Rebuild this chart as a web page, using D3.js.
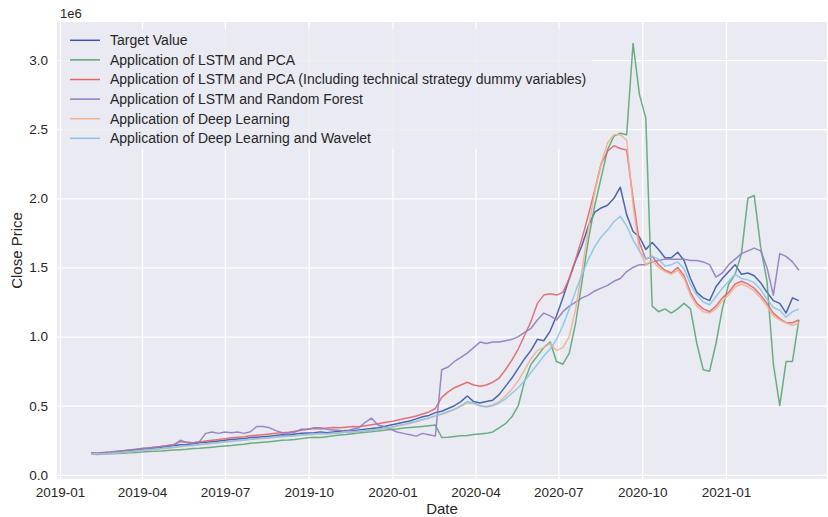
<!DOCTYPE html>
<html>
<head>
<meta charset="utf-8">
<script src="https://cdn.jsdelivr.net/npm/d3@7"></script>
<style>
  body { margin: 0; background: #ffffff; }
  text { font-family: "Liberation Sans", Arial, sans-serif; fill: #262626; }
</style>
</head>
<body>
<svg id="chart" width="828" height="517"></svg>
<script>
// Weekly closes (in millions) for the target and each model's prediction.
const firstWeek = "2019-02-04";
const weekCount = 112;

const seriesNames = [
  "Target Value",
  "Application of LSTM and PCA",
  "Application of LSTM and PCA (Including technical strategy dummy variables)",
  "Application of LSTM and Random Forest",
  "Application of Deep Learning",
  "Application of Deep Learning and Wavelet"
];
const seriesColors = ["#3a56a6", "#5aa777", "#e0666a", "#8f7cc0", "#f2b08f", "#86c5e8"];

const targetValue = [
  0.155, 0.152, 0.158, 0.160, 0.165, 0.170, 0.175, 0.180, 0.185, 0.190,
  0.195, 0.200, 0.205, 0.212, 0.218, 0.220, 0.225, 0.232, 0.236, 0.240,
  0.245, 0.250, 0.256, 0.260, 0.262, 0.270, 0.272, 0.276, 0.280, 0.285,
  0.290, 0.288, 0.295, 0.300, 0.302, 0.305, 0.310, 0.305, 0.310, 0.315,
  0.320, 0.318, 0.325, 0.330, 0.335, 0.340, 0.350, 0.360, 0.370, 0.380,
  0.390, 0.405, 0.420, 0.430, 0.450, 0.460, 0.480, 0.500, 0.530, 0.570,
  0.530, 0.520, 0.530, 0.540, 0.580, 0.640, 0.700, 0.770, 0.840, 0.900,
  0.980, 0.970, 1.040, 1.150, 1.280, 1.420, 1.550, 1.660, 1.800, 1.900,
  1.930, 1.950, 2.000, 2.080, 1.880, 1.760, 1.720, 1.630, 1.680, 1.630,
  1.570, 1.570, 1.610, 1.550, 1.420, 1.320, 1.280, 1.260, 1.360, 1.420,
  1.470, 1.520, 1.450, 1.460, 1.440, 1.390, 1.320, 1.260, 1.240, 1.170, 1.280, 1.260
];
const lstmPca = [
  0.150, 0.148, 0.150, 0.152, 0.155, 0.156, 0.160, 0.162, 0.165, 0.168,
  0.170, 0.172, 0.176, 0.180, 0.182, 0.185, 0.190, 0.192, 0.196, 0.200,
  0.205, 0.208, 0.212, 0.218, 0.222, 0.228, 0.232, 0.236, 0.240, 0.245,
  0.250, 0.252, 0.256, 0.262, 0.268, 0.272, 0.270, 0.276, 0.282, 0.288,
  0.292, 0.298, 0.302, 0.308, 0.312, 0.318, 0.322, 0.328, 0.332, 0.338,
  0.342, 0.346, 0.350, 0.355, 0.360, 0.270, 0.272, 0.278, 0.282, 0.285,
  0.292, 0.296, 0.300, 0.310, 0.340, 0.370, 0.420, 0.500, 0.680, 0.800,
  0.860, 0.920, 0.960, 0.820, 0.800, 0.880, 1.100, 1.400, 1.700, 1.950,
  2.150, 2.350, 2.450, 2.470, 2.460, 3.120, 2.750, 2.580, 1.220, 1.180,
  1.200, 1.170, 1.200, 1.240, 1.200, 0.950, 0.760, 0.750, 0.950, 1.200,
  1.380, 1.450, 1.600, 2.000, 2.020, 1.650, 1.400, 0.800, 0.500, 0.820, 0.820, 1.120
];
const lstmPcaTechnical = [
  0.155, 0.155, 0.160, 0.163, 0.168, 0.172, 0.178, 0.183, 0.190, 0.195,
  0.200, 0.205, 0.212, 0.220, 0.240, 0.235, 0.232, 0.238, 0.245, 0.250,
  0.255, 0.262, 0.268, 0.272, 0.275, 0.282, 0.286, 0.290, 0.295, 0.300,
  0.305, 0.308, 0.315, 0.322, 0.330, 0.335, 0.332, 0.338, 0.342, 0.340,
  0.345, 0.350, 0.348, 0.355, 0.362, 0.370, 0.378, 0.385, 0.395, 0.405,
  0.415, 0.425, 0.440, 0.455, 0.480, 0.560, 0.600, 0.630, 0.650, 0.670,
  0.650, 0.640, 0.650, 0.670, 0.700, 0.760, 0.830, 0.910, 1.010, 1.110,
  1.240, 1.300, 1.310, 1.300, 1.320, 1.420, 1.560, 1.710, 1.880, 2.060,
  2.250, 2.340, 2.380, 2.360, 2.350, 2.000, 1.680, 1.560, 1.580, 1.520,
  1.480, 1.460, 1.500, 1.440, 1.320, 1.240, 1.200, 1.180, 1.220, 1.280,
  1.320, 1.380, 1.400, 1.380, 1.350, 1.300, 1.240, 1.170, 1.130, 1.100, 1.100, 1.120
];
const lstmRandomForest = [
  0.160, 0.158, 0.162, 0.165, 0.170, 0.175, 0.180, 0.185, 0.190, 0.195,
  0.200, 0.205, 0.210, 0.215, 0.250, 0.235, 0.230, 0.240, 0.300, 0.310,
  0.300, 0.310, 0.305, 0.310, 0.300, 0.312, 0.350, 0.350, 0.340, 0.320,
  0.305, 0.300, 0.310, 0.330, 0.330, 0.340, 0.340, 0.330, 0.325, 0.320,
  0.315, 0.330, 0.340, 0.380, 0.410, 0.360, 0.350, 0.330, 0.310, 0.300,
  0.290, 0.280, 0.300, 0.290, 0.280, 0.760, 0.780, 0.820, 0.850, 0.880,
  0.920, 0.960, 0.950, 0.960, 0.960, 0.970, 0.980, 1.000, 1.030, 1.060,
  1.120, 1.170, 1.150, 1.120, 1.180, 1.220, 1.250, 1.280, 1.300, 1.330,
  1.350, 1.370, 1.400, 1.420, 1.470, 1.500, 1.520, 1.520, 1.540, 1.550,
  1.560, 1.560, 1.560, 1.560, 1.550, 1.550, 1.540, 1.520, 1.430, 1.460,
  1.520, 1.560, 1.600, 1.620, 1.640, 1.620, 1.500, 1.300, 1.600, 1.580, 1.540, 1.480
];
const deepLearning = [
  0.150, 0.150, 0.152, 0.155, 0.158, 0.162, 0.166, 0.170, 0.175, 0.180,
  0.184, 0.188, 0.193, 0.198, 0.203, 0.208, 0.212, 0.217, 0.222, 0.227,
  0.232, 0.237, 0.242, 0.246, 0.250, 0.255, 0.259, 0.263, 0.267, 0.272,
  0.276, 0.279, 0.282, 0.286, 0.290, 0.293, 0.296, 0.298, 0.301, 0.305,
  0.308, 0.311, 0.315, 0.319, 0.323, 0.328, 0.334, 0.342, 0.352, 0.362,
  0.372, 0.384, 0.398, 0.410, 0.425, 0.438, 0.455, 0.472, 0.495, 0.520,
  0.515, 0.500, 0.495, 0.505, 0.530, 0.570, 0.620, 0.680, 0.760, 0.840,
  0.900, 0.920, 0.950, 0.900, 0.920, 1.000, 1.200, 1.480, 1.780, 2.050,
  2.250, 2.400, 2.460, 2.460, 2.420, 1.950, 1.620, 1.520, 1.550, 1.500,
  1.470, 1.450, 1.480, 1.420, 1.300, 1.220, 1.180, 1.170, 1.200, 1.260,
  1.300, 1.360, 1.380, 1.360, 1.330, 1.280, 1.220, 1.150, 1.120, 1.100, 1.080, 1.100
];
const deepLearningWavelet = [
  0.150, 0.150, 0.153, 0.155, 0.160, 0.163, 0.168, 0.172, 0.178, 0.182,
  0.186, 0.190, 0.196, 0.200, 0.206, 0.210, 0.214, 0.220, 0.225, 0.230,
  0.234, 0.240, 0.244, 0.248, 0.252, 0.258, 0.262, 0.266, 0.270, 0.275,
  0.280, 0.280, 0.284, 0.290, 0.292, 0.295, 0.300, 0.298, 0.300, 0.305,
  0.310, 0.310, 0.315, 0.320, 0.325, 0.330, 0.338, 0.345, 0.355, 0.365,
  0.375, 0.388, 0.400, 0.412, 0.428, 0.440, 0.458, 0.475, 0.500, 0.530,
  0.520, 0.500, 0.490, 0.500, 0.520, 0.550, 0.590, 0.630, 0.680, 0.740,
  0.800, 0.860, 0.910, 0.980, 1.080, 1.200, 1.330, 1.450, 1.560, 1.650,
  1.720, 1.770, 1.830, 1.870, 1.800, 1.700, 1.620, 1.560, 1.580, 1.560,
  1.510, 1.520, 1.540, 1.490, 1.380, 1.300, 1.250, 1.230, 1.290, 1.350,
  1.400, 1.450, 1.420, 1.410, 1.390, 1.340, 1.270, 1.210, 1.190, 1.140, 1.180, 1.200
];

const yTicks = [0.0, 0.5, 1.0, 1.5, 2.0, 2.5, 3.0];
const xTickLabels = ["2019-01", "2019-04", "2019-07", "2019-10", "2020-01", "2020-04", "2020-07", "2020-10", "2021-01"];

const seriesValues = [targetValue, lstmPca, lstmPcaTechnical, lstmRandomForest, deepLearning, deepLearningWavelet];

// Plot frame
const plot = { left: 57, right: 827, top: 22, bottom: 479 };

const start = new Date(firstWeek + "T00:00:00Z");
const dates = d3.range(weekCount).map(i => d3.utcDay.offset(start, 7 * i));

const x = d3.scaleUtc()
  .domain([new Date("2018-12-28T17:00:00Z"), new Date("2021-04-21T21:00:00Z")])
  .range([plot.left, plot.right]);
const y = d3.scaleLinear()
  .domain([-0.03, 3.275])
  .range([plot.bottom, plot.top]);

const svg = d3.select("#chart");

// Axes background
svg.append("rect")
  .attr("x", plot.left).attr("y", plot.top)
  .attr("width", plot.right - plot.left).attr("height", plot.bottom - plot.top)
  .attr("fill", "#eaeaf2");

const parseTick = d3.utcParse("%Y-%m");
const xTickDates = xTickLabels.map(parseTick);

// Grid lines
svg.append("g")
  .attr("transform", `translate(0,${plot.bottom})`)
  .call(d3.axisBottom(x).tickValues(xTickDates).tickSize(-(plot.bottom - plot.top)).tickFormat(""))
  .call(g => g.select(".domain").remove())
  .call(g => g.selectAll("line").attr("stroke", "#ffffff").attr("stroke-width", 1.3));
svg.append("g")
  .attr("transform", `translate(${plot.left},0)`)
  .call(d3.axisLeft(y).tickValues(yTicks).tickSize(-(plot.right - plot.left)).tickFormat(""))
  .call(g => g.select(".domain").remove())
  .call(g => g.selectAll("line").attr("stroke", "#ffffff").attr("stroke-width", 1.3));

// Tick labels
svg.append("g")
  .attr("transform", `translate(0,${plot.bottom})`)
  .call(d3.axisBottom(x).tickValues(xTickDates).tickSize(0).tickPadding(8)
    .tickFormat(d3.utcFormat("%Y-%m")))
  .call(g => g.select(".domain").remove())
  .call(g => g.selectAll("text").attr("font-size", 13.5).attr("fill", "#262626"));
svg.append("g")
  .attr("transform", `translate(${plot.left},0)`)
  .call(d3.axisLeft(y).tickValues(yTicks).tickSize(0).tickPadding(9).tickFormat(d3.format(".1f")))
  .call(g => g.select(".domain").remove())
  .call(g => g.selectAll("text").attr("font-size", 13.5).attr("fill", "#262626"));

// Offset and axis titles
svg.append("text").attr("x", plot.left + 3).attr("y", 13).attr("dy", "0.35em")
  .attr("font-size", 13).text("1e6");
svg.append("text").attr("x", (plot.left + plot.right) / 2).attr("y", 509).attr("dy", "0.35em")
  .attr("text-anchor", "middle").attr("font-size", 15).text("Date");
svg.append("text")
  .attr("transform", `translate(17,${(plot.top + plot.bottom) / 2}) rotate(-90)`)
  .attr("dy", "0.35em").attr("text-anchor", "middle").attr("font-size", 15).text("Close Price");

// Series lines
svg.append("clipPath").attr("id", "plot-clip").append("rect")
  .attr("x", plot.left).attr("y", plot.top)
  .attr("width", plot.right - plot.left).attr("height", plot.bottom - plot.top);

const line = d3.line()
  .x((d, i) => x(dates[i]))
  .y(d => y(d));

svg.append("g").attr("clip-path", "url(#plot-clip)")
  .selectAll("path")
  .data(seriesValues)
  .join("path")
  .attr("d", d => line(d))
  .attr("fill", "none")
  .attr("stroke", (d, i) => seriesColors[i])
  .attr("stroke-width", 1.5)
  .attr("stroke-opacity", 0.9)
  .attr("stroke-linejoin", "round");

// Legend
const legend = svg.append("g");
legend.append("rect")
  .attr("x", 62).attr("y", 29).attr("width", 530).attr("height", 120).attr("rx", 3)
  .attr("fill", "#eaeaf2").attr("fill-opacity", 0.8);
const rows = legend.selectAll("g.row")
  .data(seriesNames)
  .join("g")
  .attr("class", "row")
  .attr("transform", (d, i) => `translate(0,${40.3 + 19.6 * i})`);
rows.append("line")
  .attr("x1", 70).attr("x2", 100).attr("y1", 0).attr("y2", 0)
  .attr("stroke", (d, i) => seriesColors[i]).attr("stroke-width", 1.5);
rows.append("text")
  .attr("x", 110).attr("dy", "0.35em").attr("font-size", 14)
  .text(d => d);
</script>
</body>
</html>
